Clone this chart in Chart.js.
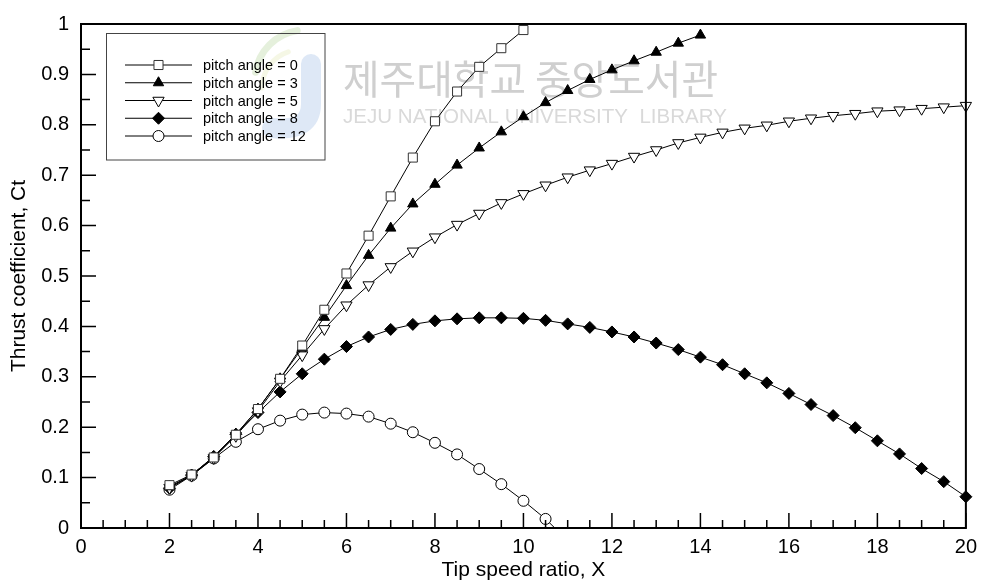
<!DOCTYPE html>
<html>
<head>
<meta charset="utf-8">
<script src="https://cdn.jsdelivr.net/npm/chart.js@4.4.1/dist/chart.umd.min.js"></script>
<style>
  html, body { margin: 0; padding: 0; background: #fff; }
  #wrap { width: 984px; height: 586px; }
</style>
</head>
<body>
<div id="wrap"><canvas id="chart" width="984" height="586"></canvas></div>
<script>
// Tip speed ratio samples for each run
const tsrTo10 = [2, 2.5, 3, 3.5, 4, 4.5, 5, 5.5, 6, 6.5, 7, 7.5, 8, 8.5, 9, 9.5, 10];
const tsrTo14 = [2, 2.5, 3, 3.5, 4, 4.5, 5, 5.5, 6, 6.5, 7, 7.5, 8, 8.5, 9, 9.5, 10, 10.5, 11, 11.5, 12, 12.5, 13, 13.5, 14];
const tsrTo20 = [2, 2.5, 3, 3.5, 4, 4.5, 5, 5.5, 6, 6.5, 7, 7.5, 8, 8.5, 9, 9.5, 10, 10.5, 11, 11.5, 12, 12.5, 13, 13.5, 14, 14.5, 15, 15.5, 16, 16.5, 17, 17.5, 18, 18.5, 19, 19.5, 20];
const tsrTo11 = [2, 2.5, 3, 3.5, 4, 4.5, 5, 5.5, 6, 6.5, 7, 7.5, 8, 8.5, 9, 9.5, 10, 10.5, 11];

// Thrust coefficient per pitch angle
const ctPitch0 = [0.085, 0.106, 0.140, 0.185, 0.236, 0.296, 0.362, 0.433, 0.505, 0.580, 0.658, 0.735, 0.807, 0.866, 0.915, 0.952, 0.988];
const ctPitch3 = [0.082, 0.105, 0.141, 0.186, 0.236, 0.296, 0.357, 0.418, 0.481, 0.541, 0.595, 0.643, 0.682, 0.720, 0.754, 0.786, 0.816, 0.844, 0.868, 0.890, 0.909, 0.927, 0.944, 0.962, 0.978];
const ctPitch5 = [0.080, 0.104, 0.139, 0.183, 0.232, 0.291, 0.343, 0.395, 0.442, 0.482, 0.518, 0.549, 0.577, 0.602, 0.624, 0.645, 0.663, 0.680, 0.696, 0.710, 0.723, 0.737, 0.750, 0.764, 0.775, 0.785, 0.793, 0.799, 0.807, 0.813, 0.818, 0.822, 0.827, 0.829, 0.832, 0.835, 0.838];
const ctPitch8 = [0.079, 0.105, 0.142, 0.186, 0.229, 0.270, 0.306, 0.335, 0.360, 0.379, 0.394, 0.404, 0.411, 0.415, 0.417, 0.417, 0.416, 0.412, 0.405, 0.398, 0.389, 0.379, 0.367, 0.354, 0.339, 0.324, 0.306, 0.288, 0.267, 0.245, 0.223, 0.199, 0.173, 0.147, 0.118, 0.092, 0.062];
const ctPitch12 = [0.076, 0.104, 0.138, 0.171, 0.196, 0.213, 0.225, 0.229, 0.227, 0.221, 0.207, 0.190, 0.169, 0.146, 0.117, 0.087, 0.054, 0.018, -0.025];

const seriesLabels = ['pitch angle = 0', 'pitch angle = 3', 'pitch angle = 5', 'pitch angle = 8', 'pitch angle = 12'];

const FONT = 'Arial, "Liberation Sans", sans-serif';

const pairs = (xs, ys) => xs.map((x, i) => ({ x, y: ys[i] }));

// marker look for each curve
const markers = [
  { pointStyle: 'rect', pointRadius: 6.4, pointBackgroundColor: '#fff', pointBorderColor: '#333', pointRotation: 0 },
  { pointStyle: 'triangle', pointRadius: 6, pointBackgroundColor: '#000', pointBorderColor: '#000', pointRotation: 0 },
  { pointStyle: 'triangle', pointRadius: 6.5, pointBackgroundColor: '#fff', pointBorderColor: '#000', pointRotation: 180 },
  { pointStyle: 'rectRot', pointRadius: 6, pointBackgroundColor: '#000', pointBorderColor: '#000', pointRotation: 0 },
  { pointStyle: 'circle', pointRadius: 5.5, pointBackgroundColor: '#fff', pointBorderColor: '#000', pointRotation: 0 },
];

const curves = [
  pairs(tsrTo10, ctPitch0),
  pairs(tsrTo14, ctPitch3),
  pairs(tsrTo20, ctPitch5),
  pairs(tsrTo20, ctPitch8),
  pairs(tsrTo11, ctPitch12),
];

const datasets = curves.map((data, i) => ({
  label: seriesLabels[i],
  data,
  borderColor: '#000',
  borderWidth: 1,
  tension: 0,
  pointBorderWidth: 1,
  pointHoverRadius: 6,
  clip: { left: 10, right: 10, top: 10, bottom: 0 },
  ...markers[i],
}));

// faint library stamp behind the curves
const stamp = {
  id: 'stamp',
  beforeDatasetsDraw(chart) {
    const { ctx } = chart;
    ctx.save();
    // logo swooshes
    ctx.lineCap = 'round';
    ctx.strokeStyle = 'rgba(170, 205, 140, 0.3)';
    ctx.lineWidth = 7;
    ctx.beginPath();
    ctx.arc(305, 80, 50, Math.PI * 1.05, Math.PI * 1.45);
    ctx.stroke();
    ctx.strokeStyle = 'rgba(215, 225, 150, 0.25)';
    ctx.lineWidth = 5;
    ctx.beginPath();
    ctx.arc(300, 88, 38, Math.PI * 1.0, Math.PI * 1.4);
    ctx.stroke();
    ctx.strokeStyle = 'rgba(160, 190, 228, 0.35)';
    ctx.lineWidth = 20;
    ctx.beginPath();
    ctx.moveTo(311, 64);
    ctx.lineTo(311, 104);
    ctx.quadraticCurveTo(311, 132, 272, 128);
    ctx.stroke();
    // text
    ctx.fillStyle = '#cfcfcf';
    ctx.textBaseline = 'alphabetic';
    ctx.textAlign = 'left';
    ctx.font = '40px "Noto Sans CJK KR", sans-serif';
    const kr = '제주대학교 중앙도서관';
    const krW = ctx.measureText(kr).width;
    ctx.save();
    ctx.translate(343, 94);
    ctx.scale(375 / krW, 1);
    ctx.fillText(kr, 0, 0);
    ctx.restore();
    ctx.fillStyle = '#d9d9d9';
    ctx.font = '20px ' + FONT;
    const en = 'JEJU NATIONAL UNIVERSITY  LIBRARY';
    const enW = ctx.measureText(en).width;
    ctx.translate(343, 123);
    ctx.scale(384 / enW, 1);
    ctx.fillText(en, 0, 0);
    ctx.restore();
  },
};

// frame plus inward ticks on the bottom and left axes
const frame = {
  id: 'frame',
  afterDatasetsDraw(chart) {
    const { ctx, chartArea: a, scales: { x, y } } = chart;
    ctx.save();
    ctx.strokeStyle = '#000';
    ctx.lineWidth = 1.5;
    ctx.beginPath();
    for (let v = x.min; v <= x.max + 1e-9; v += 0.5) {
      const px = x.getPixelForValue(v);
      const len = Math.abs(v % 2) < 1e-6 ? 15 : 8;
      ctx.moveTo(px, a.bottom);
      ctx.lineTo(px, a.bottom - len);
    }
    for (let i = 0; i <= 20; i++) {
      const v = y.min + i * 0.05;
      const py = y.getPixelForValue(v);
      const len = i % 2 === 0 ? 15 : 9;
      ctx.moveTo(a.left, py);
      ctx.lineTo(a.left + len, py);
    }
    ctx.stroke();
    ctx.lineWidth = 2;
    ctx.strokeRect(a.left, a.top, a.right - a.left, a.bottom - a.top);
    ctx.restore();
  },
};

// boxed key in the upper left of the plot
const keyBox = {
  id: 'keyBox',
  afterDraw(chart) {
    const { ctx } = chart;
    ctx.save();
    ctx.strokeStyle = '#444';
    ctx.lineWidth = 1;
    ctx.strokeRect(106.5, 33.5, 218.5, 126.5);
    ctx.font = '14.5px ' + FONT;
    ctx.textBaseline = 'middle';
    ctx.textAlign = 'left';
    chart.data.datasets.forEach((ds, i) => {
      const yy = 65 + i * 17.75;
      ctx.strokeStyle = '#000';
      ctx.beginPath();
      ctx.moveTo(125, yy);
      ctx.lineTo(192, yy);
      ctx.stroke();
      ctx.fillStyle = ds.pointBackgroundColor;
      ctx.strokeStyle = ds.pointBorderColor;
      Chart.helpers.drawPoint(ctx, {
        pointStyle: ds.pointStyle,
        radius: ds.pointRadius,
        rotation: ds.pointRotation,
        borderWidth: 1,
      }, 158.5, yy);
      ctx.fillStyle = '#000';
      ctx.fillText(ds.label, 203, yy + 1);
    });
    ctx.restore();
  },
};

const ctx = document.getElementById('chart').getContext('2d');
const chart = new Chart(ctx, {
  type: 'line',
  data: { datasets },
  plugins: [stamp, frame, keyBox],
  options: {
    responsive: false,
    devicePixelRatio: 1,
    animation: false,
    layout: { padding: { top: 17, right: 16, left: 0, bottom: 0 } },
    plugins: {
      legend: { display: false },
      tooltip: { enabled: false },
    },
    scales: {
      x: {
        type: 'linear',
        min: 0,
        max: 20,
        grid: { display: false, drawTicks: false },
        border: { display: false },
        ticks: {
          stepSize: 2,
          padding: 7,
          color: '#000',
          font: { family: FONT, size: 20 },
        },
        title: {
          display: true,
          text: 'Tip speed ratio, X',
          color: '#000',
          font: { family: FONT, size: 21 },
          padding: { top: 0, bottom: 3 },
        },
        afterFit: (scale) => { scale.height = 58; },
      },
      y: {
        type: 'linear',
        min: 0,
        max: 1,
        grid: { display: false, drawTicks: false },
        border: { display: false },
        ticks: {
          stepSize: 0.1,
          padding: 12,
          color: '#000',
          font: { family: FONT, size: 20 },
          // plain decimals: 0, 0.1 ... 0.9, 1
          callback: (v) => String(Math.round(v * 10) / 10),
        },
        title: {
          display: true,
          text: 'Thrust coefficient, Ct',
          color: '#000',
          font: { family: FONT, size: 21 },
          padding: { top: 7, bottom: 0 },
        },
        afterFit: (scale) => { scale.width = 81; },
      },
    },
  },
});
</script>
</body>
</html>
